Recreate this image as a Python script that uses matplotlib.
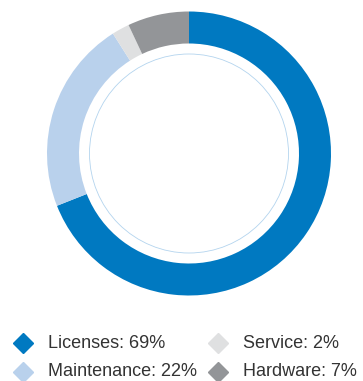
import matplotlib.pyplot as plt
from matplotlib.patches import Circle

labels = ['Licenses', 'Maintenance', 'Service', 'Hardware']
shares = [69, 22, 2, 7]
colors = ['#0079c1', '#b9d1ec', '#dfe0e1', '#939598']

W, H = 363, 381
fig = plt.figure(figsize=(W / 100, H / 100), dpi=100)
ax = fig.add_axes([0, 0, 1, 1])
ax.set_xlim(0, W)
ax.set_ylim(0, H)
ax.set_aspect('equal')
ax.axis('off')

# donut, clockwise from 12 o'clock
cx, cy, r = 189, H - 153.5, 142
ax.pie(shares, colors=colors, startangle=90, counterclock=False,
       center=(cx, cy), radius=r, frame=True,
       wedgeprops=dict(width=32, linewidth=0))
ax.set_xlim(0, W)
ax.set_ylim(0, H)
ax.axis('off')

# thin inner ring
ax.add_patch(Circle((cx, cy), 99.5, fill=False, edgecolor='#b3d4ee', linewidth=0.6))

# legend: two columns
col_x = [23, 218]
row_y = [H - 343, H - 372]
order = [(0, 0), (1, 0), (0, 1), (1, 1)]  # (row, col) for each label
for (row, col), lab, val, c in zip(order, labels, shares, colors):
    x, y = col_x[col], row_y[row]
    ax.plot(x, y, marker='D', markersize=10, color=c, linestyle='none')
    ax.text(x + 25, y, f'{lab}: {val}%', fontsize=13, color='#333333',
            family='Liberation Sans', va='center', ha='left')

fig.savefig('out.png', dpi=100)
